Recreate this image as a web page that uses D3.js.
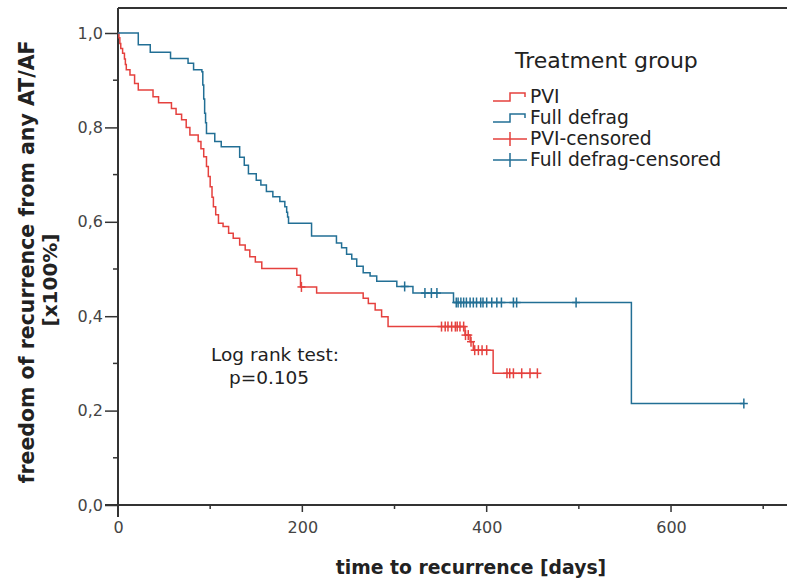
<!DOCTYPE html>
<html>
<head>
<meta charset="utf-8">
<script src="https://cdn.jsdelivr.net/npm/d3@7"></script>
<style>
  body { margin: 0; background: #fff; }
  text { font-family: "DejaVu Sans", sans-serif; }
</style>
</head>
<body>
<svg id="chart" width="787" height="580"></svg>
<script>
// Kaplan-Meier steps (days, survival after the event)
const pviTimes = [0, 1, 2, 3, 5, 7, 8, 9, 13, 18, 22, 38, 44, 58, 63, 69, 74, 78, 87, 90, 93, 96, 98, 100, 102, 103.5, 106, 109, 114, 120, 125, 132, 138, 143, 149, 156, 194, 198, 215.5, 266, 271.6, 279, 286, 293, 376.5, 382, 385.5, 407];
const pviSurv = [1, 0.99, 0.978, 0.967, 0.957, 0.945, 0.933, 0.922, 0.911, 0.893, 0.879, 0.865, 0.852, 0.84, 0.828, 0.816, 0.8, 0.784, 0.77, 0.755, 0.738, 0.717, 0.696, 0.674, 0.652, 0.632, 0.615, 0.597, 0.59, 0.576, 0.565, 0.551, 0.54, 0.526, 0.515, 0.501, 0.487, 0.462, 0.449, 0.438, 0.427, 0.413, 0.399, 0.378, 0.36, 0.346, 0.328, 0.279];
const pviCensored = [199, 351, 355, 358, 362, 366, 368, 371, 375, 377, 380, 383, 387, 391, 395, 400, 422, 425, 429, 438, 447, 455];

const fullTimes = [0, 22, 35, 57, 76, 82, 91, 92, 93, 94, 95, 96, 105, 112, 132, 137, 141.5, 150, 155, 161, 168, 175.6, 181, 183, 184, 185, 210, 237, 242.6, 248, 253.6, 259, 266, 273.5, 280.7, 302.5, 320, 364, 557];
const fullSurv = [1, 0.975, 0.959, 0.946, 0.936, 0.922, 0.918, 0.89, 0.86, 0.83, 0.81, 0.787, 0.77, 0.759, 0.737, 0.72, 0.702, 0.688, 0.678, 0.664, 0.653, 0.643, 0.632, 0.62, 0.61, 0.597, 0.57, 0.555, 0.545, 0.531, 0.521, 0.506, 0.492, 0.485, 0.474, 0.463, 0.449, 0.429, 0.215];
const fullCensored = [311, 333, 340, 346, 367, 369, 372, 375, 378, 382, 385.5, 389, 393.5, 396, 400, 405.5, 411, 416, 429, 432.5, 497, 679];

const yTicks = [0, 0.2, 0.4, 0.6, 0.8, 1.0];
const xTicks = [0, 200, 400, 600];
const legendLabels = ["PVI", "Full defrag", "PVI-censored", "Full defrag-censored"];

const red = "#e5413e";
const blue = "#226f95";
const axisColor = "#333";

const svg = d3.select("#chart");

const x = d3.scaleLinear().domain([0, 700]).range([118, 763.2]);
const y = d3.scaleLinear().domain([0, 1]).range([505, 33]);

// survival at time t for censor marks
function survAt(times, surv, t) {
    let s = 1;
    for (let i = 0; i < times.length; i++) {
        if (times[i] <= t) s = surv[i];
    }
    return s;
}

// frame lines (left, top, bottom)
svg.append("line")
    .attr("x1", 118).attr("x2", 787).attr("y1", 8).attr("y2", 8)
    .style("stroke", axisColor).style("stroke-width", 2);
svg.append("line")
    .attr("x1", 118).attr("x2", 118).attr("y1", 8).attr("y2", 517)
    .style("stroke", axisColor).style("stroke-width", 2);
svg.append("line")
    .attr("x1", 105).attr("x2", 787).attr("y1", 505).attr("y2", 505)
    .style("stroke", axisColor).style("stroke-width", 2);

// y ticks
const yAxis = d3.axisLeft(y).tickValues(yTicks).tickSize(13)
    .tickFormat(d => d3.format(".1f")(d).replace(".", ","));
const gy = svg.append("g").attr("transform", "translate(118,0)").call(yAxis);
gy.select(".domain").remove();
gy.selectAll("line").style("stroke", axisColor).style("stroke-width", 1.5);
gy.selectAll("text").style("font-size", "16px").style("fill", "#444").attr("x", -15);

svg.append("g").selectAll("line")
    .data([0.1, 0.3, 0.5, 0.7, 0.9])
    .enter().append("line")
    .attr("x1", 113).attr("x2", 118)
    .attr("y1", d => y(d)).attr("y2", d => y(d))
    .style("stroke", axisColor).style("stroke-width", 1.5);

// x ticks
const xAxis = d3.axisBottom(x).tickValues(xTicks).tickSize(0).tickFormat(d3.format("d"));
const gx = svg.append("g").attr("transform", "translate(0,505)").call(xAxis);
gx.select(".domain").remove();
gx.selectAll("text").style("font-size", "16px").style("fill", "#444").attr("y", 17);

svg.append("g").selectAll("line")
    .data([200, 400, 600])
    .enter().append("line")
    .attr("x1", d => x(d)).attr("x2", d => x(d))
    .attr("y1", 505).attr("y2", 512)
    .style("stroke", axisColor).style("stroke-width", 1.5);
svg.append("g").selectAll("line")
    .data([100, 300, 500, 700])
    .enter().append("line")
    .attr("x1", d => x(d)).attr("x2", d => x(d))
    .attr("y1", 505).attr("y2", 509)
    .style("stroke", axisColor).style("stroke-width", 1.5);

// axis titles
svg.append("text")
    .attr("x", 471).attr("y", 574)
    .attr("text-anchor", "middle")
    .style("font-size", "18.8px").style("font-weight", "bold").style("fill", "#222")
    .text("time to recurrence [days]");

svg.append("text")
    .attr("transform", "translate(34,262) rotate(-90)")
    .attr("text-anchor", "middle")
    .style("font-size", "20.5px").style("font-weight", "bold").style("fill", "#222")
    .text("freedom of recurrence from any AT/AF");
svg.append("text")
    .attr("transform", "translate(57,280) rotate(-90)")
    .attr("text-anchor", "middle")
    .style("font-size", "20px").style("font-weight", "bold").style("fill", "#222")
    .text("[x100%]");

// survival curves
const line = d3.line().x(d => x(d[0])).y(d => y(d[1])).curve(d3.curveStepAfter);

function drawGroup(times, surv, censored, color) {
    const pts = times.map((t, i) => [t, surv[i]]);
    const last = d3.max(censored);
    pts.push([last, survAt(times, surv, last)]);
    svg.append("path")
        .datum(pts)
        .attr("d", line)
        .style("fill", "none")
        .style("stroke", color)
        .style("stroke-width", 1.5);

    const marks = svg.append("g").selectAll("g")
        .data(censored)
        .enter().append("g")
        .attr("transform", d => `translate(${x(d)},${y(survAt(times, surv, d))})`);
    marks.append("line")
        .attr("x1", 0).attr("x2", 0).attr("y1", -5).attr("y2", 5)
        .style("stroke", color).style("stroke-width", 1.5);
    marks.append("line")
        .attr("x1", -4).attr("x2", 4).attr("y1", 0).attr("y2", 0)
        .style("stroke", color).style("stroke-width", 1.5);
}

drawGroup(pviTimes, pviSurv, pviCensored, red);
drawGroup(fullTimes, fullSurv, fullCensored, blue);

// legend
svg.append("text")
    .attr("x", 515).attr("y", 68)
    .style("font-size", "22px").style("fill", "#222")
    .text("Treatment group");

const legendColors = [red, blue, red, blue];
const legendY = [97, 118, 139, 160];
const lg = svg.append("g").selectAll("g")
    .data(legendLabels)
    .enter().append("g")
    .attr("transform", (d, i) => `translate(0,${legendY[i]})`);

lg.filter((d, i) => i < 2).append("path")
    .attr("d", "M493,4H510V-4H525V0")
    .style("fill", "none")
    .style("stroke", (d, i) => legendColors[i])
    .style("stroke-width", 1.5);
lg.filter((d, i) => i >= 2).append("path")
    .attr("d", "M493,0H527M510,-7V7")
    .style("fill", "none")
    .style("stroke", (d, i) => legendColors[i + 2])
    .style("stroke-width", 1.5);
lg.append("text")
    .attr("x", 530).attr("y", 6)
    .style("font-size", "18.7px").style("fill", "#222")
    .text(d => d);

// log rank annotation
svg.append("text")
    .attr("x", 275).attr("y", 361)
    .attr("text-anchor", "middle")
    .style("font-size", "18.5px").style("fill", "#222")
    .text("Log rank test:");
svg.append("text")
    .attr("x", 269).attr("y", 384)
    .attr("text-anchor", "middle")
    .style("font-size", "18.5px").style("fill", "#222")
    .text("p=0.105");
</script>
</body>
</html>
